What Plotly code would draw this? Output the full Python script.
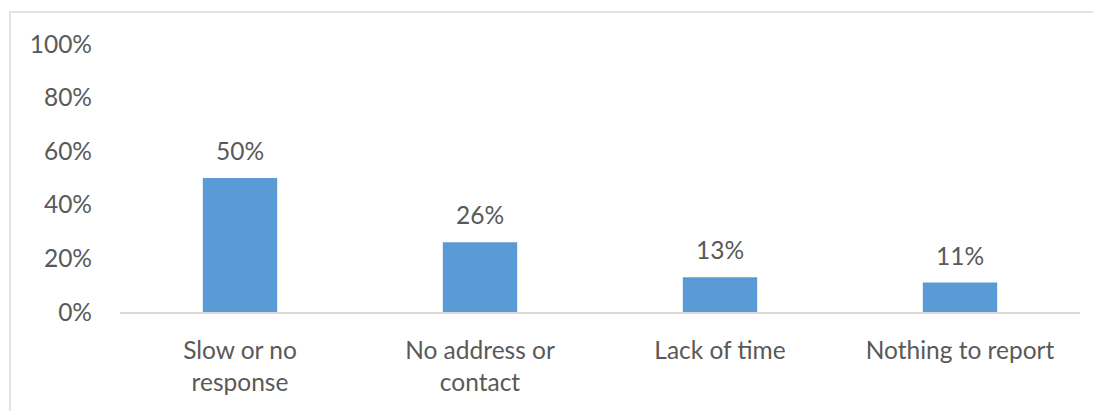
import plotly.graph_objects as go

categories = ["Slow or no<br>response", "No address or<br>contact", "Lack of time", "Nothing to report"]
shares = [0.50, 0.26, 0.13, 0.11]
tick_values = [0, 0.2, 0.4, 0.6, 0.8, 1.0]
tick_labels = ["0%", "20%", "40%", "60%", "80%", "100%"]

BAR_COLOR = "#5B9BD5"
TEXT_COLOR = "#595959"
FONT = "Lato, Open Sans, sans-serif"
SIZE = 24.5

fig = go.Figure()
fig.add_trace(go.Bar(
    x=categories,
    y=shares,
    marker=dict(color=BAR_COLOR, line=dict(width=0)),
    width=0.31,
    hoverinfo="skip",
))

# value labels above each bar
for cat, val in zip(categories, shares):
    fig.add_annotation(
        x=cat, y=val, text=f"{round(val * 100)}%",
        showarrow=False, yanchor="bottom", yshift=11,
        font=dict(family=FONT, size=SIZE, color=TEXT_COLOR),
    )

# chart-area border
fig.add_shape(
    type="rect", xref="paper", yref="paper",
    x0=-0.1146, x1=1.06, y0=-0.6, y1=1.119,
    line=dict(color="#d9d9d9", width=1.5), fillcolor="rgba(0,0,0,0)",
    layer="below",
)

fig.update_layout(
    width=1093, height=411,
    margin=dict(l=120, r=13, t=44, b=99),
    paper_bgcolor="white", plot_bgcolor="white",
    showlegend=False,
    font=dict(family=FONT, size=SIZE, color=TEXT_COLOR),
    bargap=0.69,
)
fig.update_xaxes(
    showline=True, linecolor="#d9d9d9", linewidth=1.5,
    showgrid=False, ticks="", ticklabelstandoff=16,
    tickfont=dict(family=FONT, size=SIZE, color=TEXT_COLOR),
)
fig.update_yaxes(
    range=[0, 1.0], tickvals=tick_values, ticktext=tick_labels,
    showgrid=False, zeroline=False, showline=False, ticks="",
    ticklabelstandoff=27,
    tickfont=dict(family=FONT, size=SIZE, color=TEXT_COLOR),
)

fig.write_html("out.html")
